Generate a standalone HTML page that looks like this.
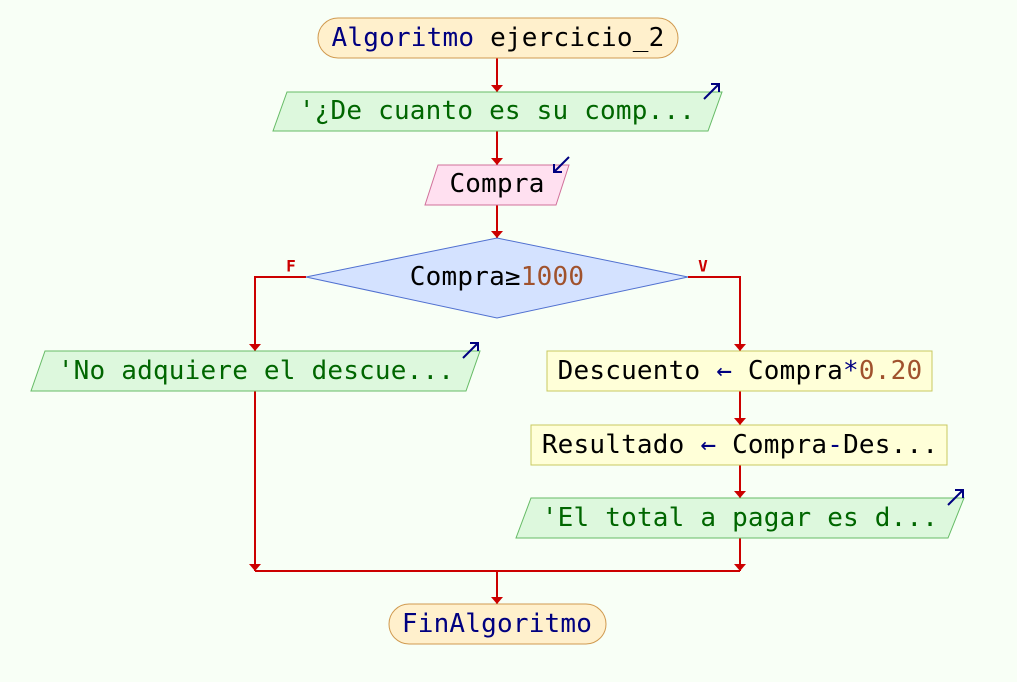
<!DOCTYPE html>
<html><head><meta charset="utf-8"><style>
html,body{margin:0;padding:0;background:#f8fff6;}
svg{display:block;}
text{font-family:"DejaVu Sans Mono","Liberation Mono",monospace;font-size:26px;letter-spacing:0.2px;dominant-baseline:central;text-anchor:middle;}
</style></head><body>
<svg width="1017" height="682" viewBox="0 0 1017 682" xmlns="http://www.w3.org/2000/svg">
<rect width="1017" height="682" fill="#f8fff6"/>
<g stroke="#cc0000" stroke-width="2" fill="none">
<line x1="497" y1="58" x2="497" y2="92"/>
<line x1="497" y1="131" x2="497" y2="165"/>
<line x1="497" y1="205" x2="497" y2="238"/>
<polyline points="306,277 255,277 255,351"/>
<polyline points="688,277 740,277 740,351"/>
<line x1="740" y1="391" x2="740" y2="425"/>
<line x1="740" y1="465" x2="740" y2="498"/>
<line x1="740" y1="538" x2="740" y2="571"/>
<line x1="255" y1="391" x2="255" y2="571"/>
<line x1="255" y1="571" x2="740" y2="571"/>
<line x1="497" y1="571" x2="497" y2="604"/>
</g>
<g fill="#cc0000">
<polygon points="491,85 503,85 497,92"/>
<polygon points="491,158 503,158 497,165"/>
<polygon points="491,231 503,231 497,238"/>
<polygon points="249,344 261,344 255,351"/>
<polygon points="734,344 746,344 740,351"/>
<polygon points="734,418 746,418 740,425"/>
<polygon points="734,491 746,491 740,498"/>
<polygon points="249,564 261,564 255,571"/>
<polygon points="734,564 746,564 740,571"/>
<polygon points="491,597 503,597 497,604"/>
</g>
<rect x="318" y="18" width="360" height="40" rx="20" fill="#fff0cc" stroke="#d09a50"/>
<text x="498" y="38"><tspan fill="#000080">Algoritmo</tspan> <tspan fill="#000">ejercicio_2</tspan></text>
<polygon points="287,92 722,92 708,131 273,131" fill="#ddf8dd" stroke="#66bb66"/>
<text x="497" y="111" fill="#006600">'¿De cuanto es su comp...</text>
<path d="M704,99 L719,84 M711,84 L719,84 L719,92" stroke="#000080" stroke-width="2" fill="none"/>
<polygon points="438,165 569,165 556,205 425,205" fill="#ffe0f0" stroke="#d0709a"/>
<text x="497" y="184" fill="#000">Compra</text>
<path d="M569,157 L554,172 M554,164 L554,172 L562,172" stroke="#000080" stroke-width="2" fill="none"/>
<polygon points="497,238 688,277 497,318 306,277" fill="#d4e2ff" stroke="#5070d0"/>
<text x="497" y="277"><tspan fill="#000">Compra≥</tspan><tspan fill="#a0522d">1000</tspan></text>
<text x="291" y="266" fill="#cc0000" style="font-size:16px;font-weight:bold;letter-spacing:0">F</text>
<text x="703" y="266" fill="#cc0000" style="font-size:16px;font-weight:bold;letter-spacing:0">V</text>
<polygon points="45,351 480,351 466,391 31,391" fill="#ddf8dd" stroke="#66bb66"/>
<text x="256" y="371" fill="#006600">'No adquiere el descue...</text>
<path d="M463,358 L478,343 M470,343 L478,343 L478,351" stroke="#000080" stroke-width="2" fill="none"/>
<rect x="547" y="351" width="385" height="40" fill="#ffffd8" stroke="#c8c860"/>
<text x="740" y="371"><tspan fill="#000">Descuento </tspan><tspan fill="#000080">←</tspan><tspan fill="#000"> Compra</tspan><tspan fill="#000080">*</tspan><tspan fill="#a0522d">0.20</tspan></text>
<rect x="531" y="425" width="416" height="40" fill="#ffffd8" stroke="#c8c860"/>
<text x="740" y="445"><tspan fill="#000">Resultado </tspan><tspan fill="#000080">←</tspan><tspan fill="#000"> Compra</tspan><tspan fill="#000080">-</tspan><tspan fill="#000">Des...</tspan></text>
<polygon points="531,498 964,498 948,538 516,538" fill="#ddf8dd" stroke="#66bb66"/>
<text x="740" y="518" fill="#006600">'El total a pagar es d...</text>
<path d="M948,505 L963,490 M955,490 L963,490 L963,498" stroke="#000080" stroke-width="2" fill="none"/>
<rect x="389" y="604" width="217" height="40" rx="20" fill="#fff0cc" stroke="#d09a50"/>
<text x="497" y="624" fill="#000080">FinAlgoritmo</text>
</svg>
</body></html>
